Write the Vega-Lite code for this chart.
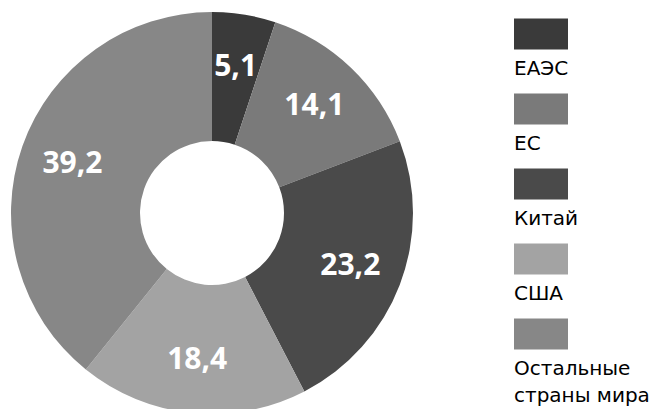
{
  "$schema": "https://vega.github.io/schema/vega-lite/v6.json",
  "padding": 0,
  "spacing": 0,
  "background": "white",
  "config": {"view": {"stroke": null}},
  "data": {
    "values": [
      {"i": 1, "name": "ЕАЭС", "value": 5.1, "label": "5,1", "legend": "ЕАЭС"},
      {"i": 2, "name": "ЕС", "value": 14.1, "label": "14,1", "legend": "ЕС"},
      {"i": 3, "name": "Китай", "value": 23.2, "label": "23,2", "legend": "Китай"},
      {"i": 4, "name": "США", "value": 18.4, "label": "18,4", "legend": "США"},
      {"i": 5, "name": "Остальные страны мира", "value": 39.2, "label": "39,2", "legend": "Остальные\nстраны мира"}
    ]
  },
  "hconcat": [
    {
      "width": 424,
      "height": 409,
      "encoding": {
        "theta": {"field": "value", "type": "quantitative", "stack": true},
        "order": {"field": "i", "type": "quantitative"},
        "color": {
          "field": "name",
          "type": "nominal",
          "legend": null,
          "scale": {
            "domain": ["ЕАЭС", "ЕС", "Китай", "США", "Остальные страны мира"],
            "range": ["#3a3a3a", "#7a7a7a", "#4a4a4a", "#a3a3a3", "#878787"]
          }
        }
      },
      "layer": [
        {"mark": {"type": "arc", "outerRadius": 201, "innerRadius": 72, "yOffset": 8.5, "stroke": null}},
        {
          "mark": {"type": "text", "radius": 148, "yOffset": 8.5, "fontSize": 30, "fontWeight": "bold", "font": "Open Sans", "fill": "white", "align": "center", "baseline": "middle"},
          "encoding": {"text": {"field": "label", "type": "nominal"}, "color": {"value": "white"}}
        }
      ]
    },
    {
      "width": 229,
      "height": 368,
      "encoding": {
        "y": {"field": "name", "type": "nominal", "sort": {"field": "i"}, "axis": null, "scale": {"padding": 0.4533}}
      },
      "layer": [
        {
          "mark": {"type": "point", "filled": true, "opacity": 1, "shape": "M-1,-0.574H1V0.574H-1Z", "size": 2916, "xOffset": 2.5, "strokeWidth": 0},
          "encoding": {"color": {"field": "name", "type": "nominal", "legend": null}}
        },
        {
          "mark": {"type": "text", "align": "left", "baseline": "alphabetic", "dx": -24.5, "dy": 41, "fontSize": 20, "font": "DejaVu Sans", "lineBreak": "\n", "lineHeight": 27, "color": "black"},
          "encoding": {"text": {"field": "legend", "type": "nominal"}}
        }
      ]
    }
  ]
}
